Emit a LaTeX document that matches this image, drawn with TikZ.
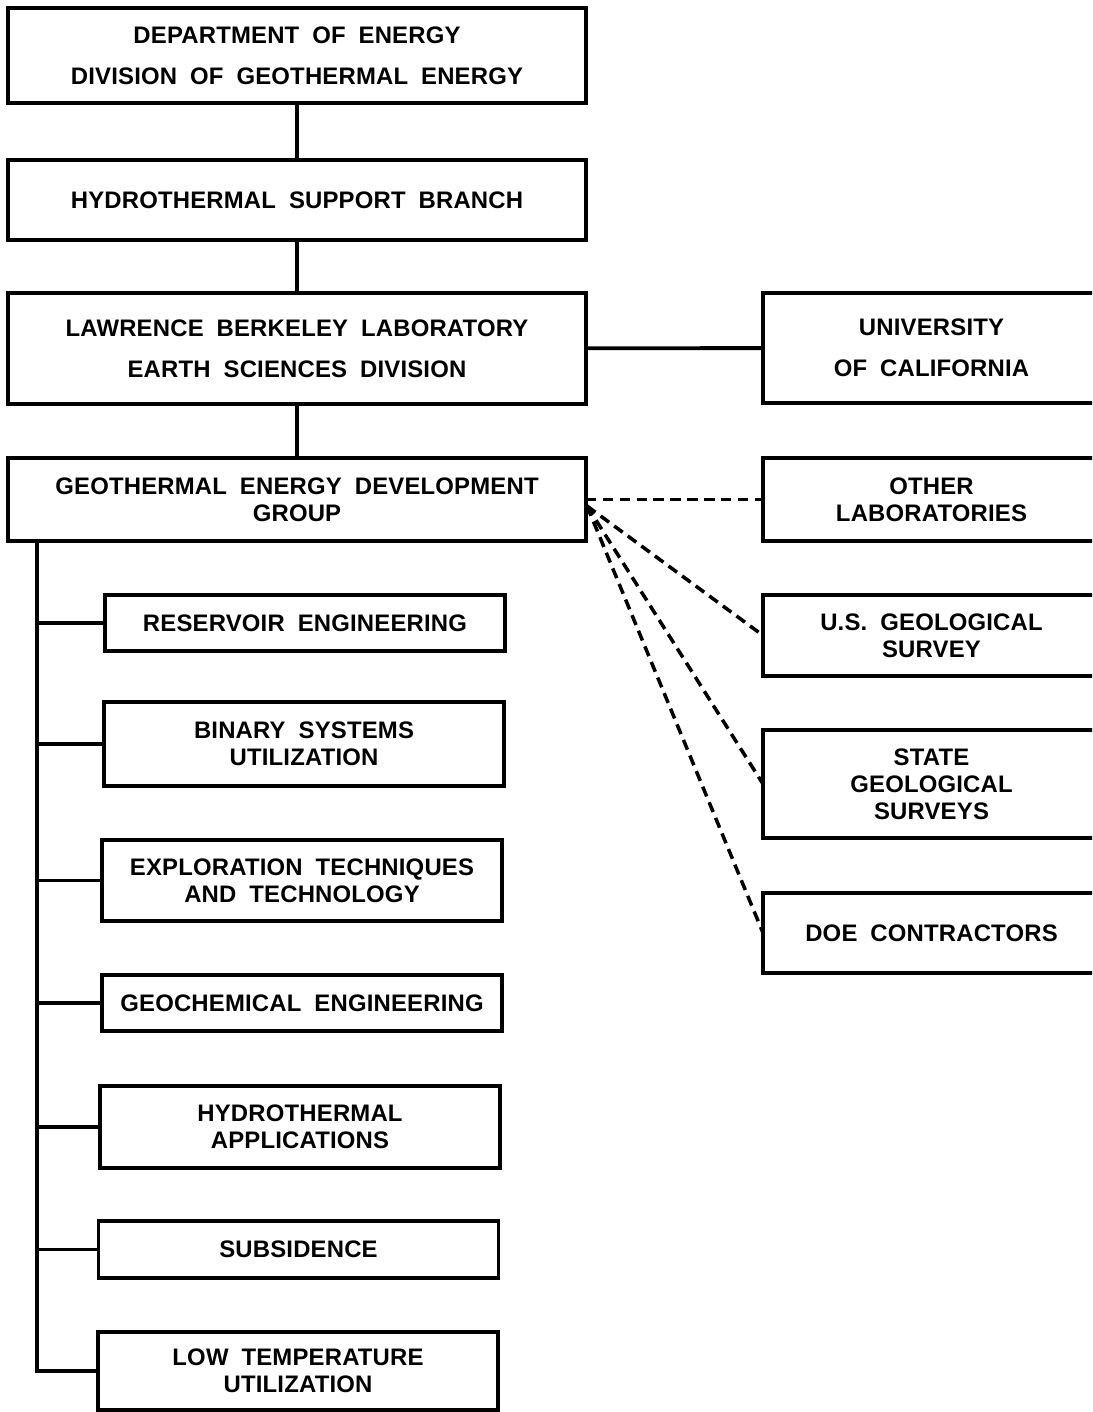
\documentclass[tikz,border=0pt]{standalone}
\usepackage{fontspec}
\setmainfont{Liberation Sans}[WordSpace=1.9,LetterSpace=0.8]
\usepackage{tikz}

\begin{document}
\begin{tikzpicture}[x=0.02cm,y=-0.02cm,
    unit/.style={draw,line width=2.2pt,inner sep=0pt,outer sep=0pt,align=center,
        font=\fontsize{13.6}{15.3}\selectfont\bfseries},
    headunit/.style={unit,minimum width=11.56cm},
    subunit/.style={unit,minimum width=8cm},
    sideunit/.style={unit,minimum width=6.74cm},
    link/.style={line width=2.2pt},
    liaison/.style={line width=2pt,dash pattern=on 6pt off 3.6pt}]
      \clip (0,0) rectangle (1092,1412);
      \node[headunit,minimum height=1.9cm] (doe) at (297,55.5) {DEPARTMENT OF ENERGY\\[8pt]DIVISION OF GEOTHERMAL ENERGY};
      \node[headunit,minimum height=1.6cm] (hsb) at (297,200) {HYDROTHERMAL SUPPORT BRANCH};
      \node[headunit,minimum height=2.22cm] (lbl) at (297,348.5) {LAWRENCE BERKELEY LABORATORY\\[8pt]EARTH SCIENCES DIVISION};
      \node[headunit,minimum height=1.66cm] (gedg) at (297,499.5) {GEOTHERMAL ENERGY DEVELOPMENT\\GROUP};
      \node[sideunit,minimum height=2.2cm] (uc) at (931.5,348) {UNIVERSITY\\[8pt]OF CALIFORNIA};
      \node[sideunit,minimum height=1.66cm] (labs) at (931.5,499.5) {OTHER\\LABORATORIES};
      \node[sideunit,minimum height=1.62cm] (usgs) at (931.5,635.5) {U.S. GEOLOGICAL\\SURVEY};
      \node[sideunit,minimum height=2.16cm] (sgs) at (931.5,784) {STATE\\GEOLOGICAL\\SURVEYS};
      \node[sideunit,minimum height=1.6cm] (doec) at (931.5,933) {DOE CONTRACTORS};
      \node[subunit,minimum height=1.12cm] (re) at (305,623) {RESERVOIR ENGINEERING};
      \node[subunit,minimum height=1.68cm] (bsu) at (304,744) {BINARY SYSTEMS\\UTILIZATION};
      \node[subunit,minimum height=1.62cm] (ett) at (302,880.5) {EXPLORATION TECHNIQUES\\AND TECHNOLOGY};
      \node[subunit,minimum height=1.12cm] (gce) at (302,1003) {GEOCHEMICAL ENGINEERING};
      \node[subunit,minimum height=1.64cm] (ha) at (300,1127) {HYDROTHERMAL\\APPLICATIONS};
      \node[subunit,minimum height=1.14cm] (sub) at (298.5,1249.5) {SUBSIDENCE};
      \node[subunit,minimum height=1.56cm] (ltu) at (298,1371) {LOW TEMPERATURE\\UTILIZATION};
      \coordinate (trunk) at (37,541);
      \coordinate (fan) at (587,506);
      \path
      (doe) edge [link] (hsb)
      (hsb) edge [link] (lbl)
      (lbl) edge [link] (gedg)
      (lbl) edge [link] (uc);
      \draw[link,line join=miter] (trunk) |- (ltu.west);
      \path
      (re.west -| trunk) edge [link] (re.west)
      (bsu.west -| trunk) edge [link] (bsu.west)
      (ett.west -| trunk) edge [link] (ett.west)
      (gce.west -| trunk) edge [link] (gce.west)
      (ha.west -| trunk) edge [link] (ha.west)
      (sub.west -| trunk) edge [link] (sub.west);
      \path
      (gedg.east) edge [liaison] (labs.west)
      (fan) edge [liaison] (usgs.west)
      (fan) edge [liaison] (sgs.west)
      (fan) edge [liaison] (doec.west);
    \end{tikzpicture}
\end{document}
